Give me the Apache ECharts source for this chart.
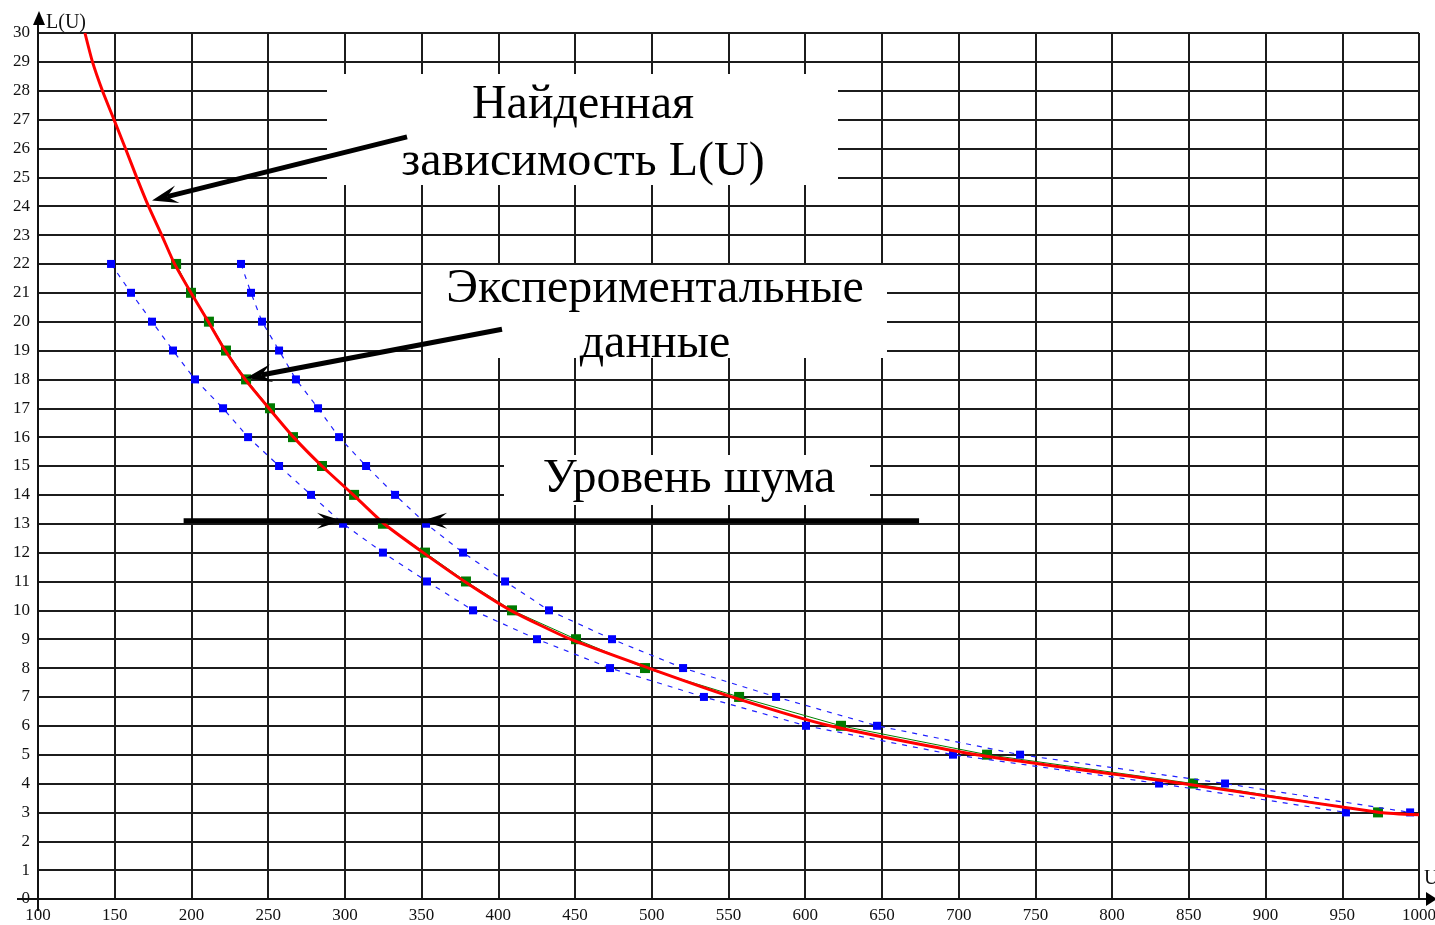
<!DOCTYPE html>
<html><head><meta charset="utf-8">
<script src="https://cdn.jsdelivr.net/npm/echarts@6/dist/echarts.min.js"></script>
<style>html,body{margin:0;padding:0;background:#fff}#c{width:1435px;height:925px}</style>
</head><body><div id="c"></div>
<script>
// ---- data ----
const levels = [22,21,20,19,18,17,16,15,14,13,12,11,10,9,8,7,6,5,4,3];
const expU   = [190,199.7,211.4,222.5,235.6,251.2,266.2,285.1,306,324.8,352.2,378.9,408.9,450.6,495.6,556.9,623.3,718.5,852.7,973.3];
const lowU   = [147.6,160.6,174.3,188,202.3,220.6,236.9,257.1,277.9,298.8,324.8,353.5,383.5,425.2,472.8,534,600.5,696.3,830.6,952.4];
const highU  = [232.3,238.8,246,257.1,268.1,282.5,296.2,313.8,332.7,352.9,377,404.4,433,474.1,520.4,581,646.8,740,873.6,994.2];
const fitU   = [130.6,135.5,142,149.5,157,164.3,172,180.6,189,199.7,211,222,235,250.5,266.5,285,305.5,325.5,351,378,408,447,498,552,616,711.7,846,974.6,1000];
const fitL   = [30,29,28,27,26,25,24,23,22,21,20,19,18,17,16,15,14,13,12,11,10,9,8,7,6,5,4,3,2.92];
const xTicks = [100,150,200,250,300,350,400,450,500,550,600,650,700,750,800,850,900,950,1000];
const yTicks = [0,1,2,3,4,5,6,7,8,9,10,11,12,13,14,15,16,17,18,19,20,21,22,23,24,25,26,27,28,29,30];
const noiseLevel = 13.1;

const pair = (us, ls) => us.map((u, i) => [u, ls[i]]);
const chart = echarts.init(document.getElementById('c'), null, {renderer: 'canvas'});
const gridLine = {show: true, lineStyle: {color: '#1c1c1c', width: 2}};
const lblFont = {fontFamily: 'Liberation Serif', fontSize: 17, color: '#111'};

chart.setOption({
  animation: false,
  backgroundColor: '#fff',
  grid: {left: 38, right: 16, top: 33, bottom: 26, containLabel: false, outerBoundsMode: 'none'},
  xAxis: {
    type: 'value', min: xTicks[0], max: xTicks[xTicks.length - 1], interval: xTicks[1] - xTicks[0],
    axisLine: {show: true, onZero: false, lineStyle: {color: '#111', width: 2}},
    axisTick: {show: false},
    axisLabel: Object.assign({margin: 8, formatter: v => String(v), hideOverlap: false}, lblFont),
    splitLine: gridLine
  },
  yAxis: {
    type: 'value', min: yTicks[0], max: yTicks[yTicks.length - 1], interval: yTicks[1] - yTicks[0],
    axisLine: {show: true, onZero: false, lineStyle: {color: '#111', width: 2}},
    axisTick: {show: false},
    axisLabel: Object.assign({margin: 8, formatter: v => String(v)}, lblFont),
    splitLine: gridLine
  },
  series: [
    {name: 'exp', type: 'line', data: pair(expU, levels), z: 3,
     symbol: 'rect', symbolSize: 10, itemStyle: {color: '#007a00'},
     lineStyle: {color: '#008000', width: 1}},
    {name: 'low', type: 'line', data: pair(lowU, levels), z: 4,
     symbol: 'rect', symbolSize: 8, itemStyle: {color: '#0000ff'},
     lineStyle: {color: '#2020ff', width: 1.2, type: [5, 6]}},
    {name: 'high', type: 'line', data: pair(highU, levels), z: 4,
     symbol: 'rect', symbolSize: 8, itemStyle: {color: '#0000ff'},
     lineStyle: {color: '#2020ff', width: 1.2, type: [5, 6]}},
    {name: 'fit', type: 'line', data: pair(fitU, fitL), z: 5, smooth: 0.2,
     showSymbol: false, lineStyle: {color: '#ff0000', width: 3}}
  ]
});

function P(u, l) { return chart.convertToPixel({gridIndex: 0}, [u, l]); }
function head(tip, from, len, hw) {
  const dx = tip[0] - from[0], dy = tip[1] - from[1], d = Math.hypot(dx, dy);
  const ux = dx / d, uy = dy / d, nx = -uy, ny = ux;
  const bx = tip[0] - ux * len, by = tip[1] - uy * len;
  const notch = [tip[0] - ux * len * 0.6, tip[1] - uy * len * 0.6];
  return {type: 'polygon', z: 20, shape: {points: [tip, [bx + nx * hw, by + ny * hw], notch, [bx - nx * hw, by - ny * hw]]},
          style: {fill: '#000'}};
}
function arrow(fromD, tipD, len, hw, w) {
  const a = P(fromD[0], fromD[1]), t = P(tipD[0], tipD[1]);
  const dx = t[0] - a[0], dy = t[1] - a[1], d = Math.hypot(dx, dy);
  const e = [t[0] - dx / d * len * 0.6, t[1] - dy / d * len * 0.6];
  return [
    {type: 'line', z: 20, shape: {x1: a[0], y1: a[1], x2: e[0], y2: e[1]}, style: {stroke: '#000', lineWidth: w}},
    head(t, a, len, hw)
  ];
}
function box(x1, y1, x2, y2) {
  return {type: 'rect', z: 10, shape: {x: x1, y: y1, width: x2 - x1, height: y2 - y1}, style: {fill: '#fff'}};
}
function txt(s, x, y, size) {
  return {type: 'text', z: 11, x: x, y: y,
    style: {text: s, font: size + 'px "Liberation Serif"', fill: '#000', align: 'center', verticalAlign: 'middle'}};
}

const o = P(xTicks[0], yTicks[0]);
const xEnd = P(xTicks[xTicks.length - 1], yTicks[0]);
const yEnd = P(xTicks[0], yTicks[yTicks.length - 1]);
const nA = P(194.9, noiseLevel), nB = P(674.2, noiseLevel);
const nTipR = P(298.1, noiseLevel), nTipL = P(350.3, noiseLevel);

const g = [
  {type: 'line', z: 12, shape: {x1: o[0], y1: o[1], x2: o[0], y2: o[1] + 12}, style: {stroke: '#111', lineWidth: 2}},
  {type: 'line', z: 12, shape: {x1: o[0] - 21, y1: o[1], x2: o[0], y2: o[1]}, style: {stroke: '#111', lineWidth: 2}},
  {type: 'line', z: 12, shape: {x1: o[0], y1: yEnd[1], x2: o[0], y2: 20}, style: {stroke: '#111', lineWidth: 2}},
  {type: 'polygon', z: 12, shape: {points: [[o[0] + 1, 11], [o[0] - 5, 25], [o[0] + 7, 25]]}, style: {fill: '#000'}},
  {type: 'line', z: 12, shape: {x1: xEnd[0], y1: o[1], x2: 1430, y2: o[1]}, style: {stroke: '#111', lineWidth: 2}},
  {type: 'polygon', z: 12, shape: {points: [[1437, o[1]], [1426, o[1] - 7], [1426, o[1] + 7]]}, style: {fill: '#000'}},
  {type: 'text', z: 12, x: 46, y: 23, style: {text: 'L(U)', font: '20px "Liberation Serif"', fill: '#111', verticalAlign: 'middle'}},
  {type: 'text', z: 12, x: 1424, y: 879, style: {text: 'U', font: '20px "Liberation Serif"', fill: '#111', verticalAlign: 'middle'}},
  box(327, 74, 838, 185),
  box(423, 265, 887, 358),
  box(504, 455, 870, 505),
  txt('Найденная', 583, 105, 48),
  txt('зависимость L(U)', 583, 162, 48),
  txt('Экспериментальные', 655, 289, 48),
  txt('данные', 655, 344, 48),
  txt('Уровень шума', 689, 479, 48),
  {type: 'line', z: 20, shape: {x1: nA[0], y1: nA[1], x2: nB[0], y2: nB[1]}, style: {stroke: '#000', lineWidth: 5}},
  head(nTipR, [nTipR[0] - 30, nTipR[1]], 25, 8),
  head(nTipL, [nTipL[0] + 30, nTipL[1]], 25, 8)
].concat(arrow([340.5, 26.4], [174.3, 24.2], 26, 9, 5))
 .concat(arrow([402.4, 19.74], [235.6, 18.05], 26, 9, 5));

chart.setOption({graphic: g});
</script>
</body></html>
